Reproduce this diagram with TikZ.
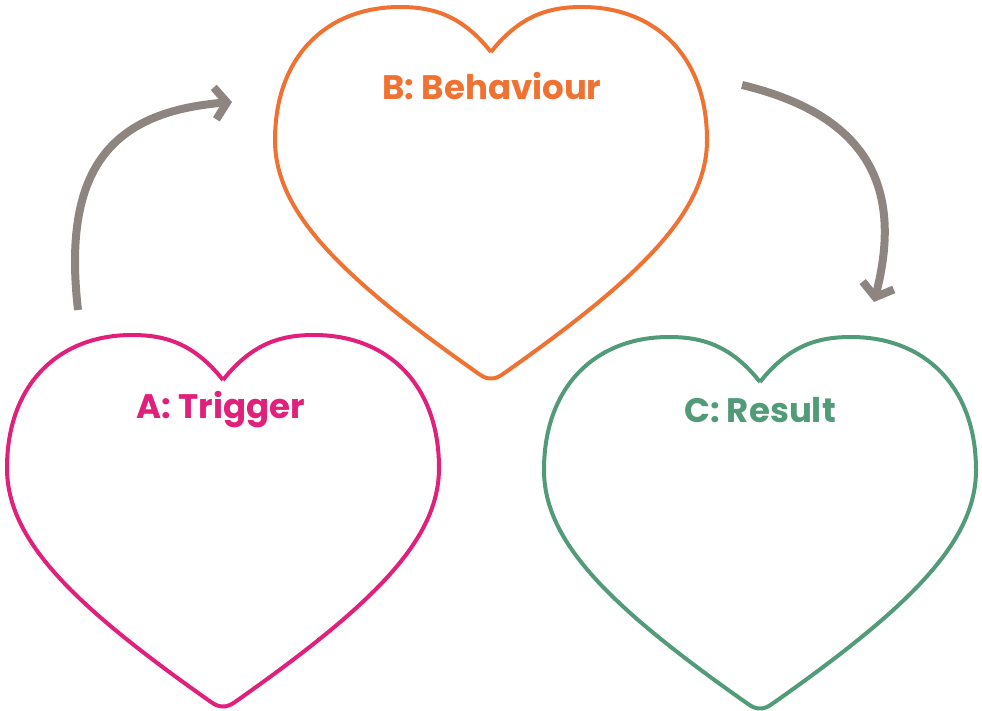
\documentclass[tikz,border=0pt]{standalone}
\usepackage{fontspec}
\setmainfont{Poppins}
\usetikzlibrary{arrows.meta}
\definecolor{trigger}{HTML}{E0207A}
\definecolor{behave}{HTML}{F07232}
\definecolor{result}{HTML}{529B79}
\definecolor{loopgray}{HTML}{8E8580}
\tikzset{heart/.pic={
    \draw[line width=4pt, line join=round]
      (0,0) .. controls (30,-38) and (60,-45) .. (91,-45)
      .. controls (165,-45) and (216,5) .. (216,88)
      .. controls (216,160) and (150,225) .. (12,322)
      .. controls (4,328) and (-4,328) .. (-12,322)
      .. controls (-150,225) and (-216,160) .. (-216,88)
      .. controls (-216,5) and (-165,-45) .. (-91,-45)
      .. controls (-60,-45) and (-30,-38) .. (0,0);
  }}
\begin{document}
\begin{tikzpicture}[x=1pt, y=-1pt,
  label/.style = {anchor=base, inner sep=0pt,
    font=\bfseries\fontsize{34}{36}\selectfont},
  loop/.style = {loopgray, line width=8pt,
    -{Straight Barb[length=12pt 0, width=32pt 0]}}]
  \useasboundingbox (0,0) rectangle (982,711);
  % the three hearts
  \pic[behave] at (491,52) {heart};
  \pic[trigger] at (223,380) {heart};
  \pic[result] at (760,382) {heart};
  \node[label, text=behave] (B) at (492,100) {B: Behaviour};
  \node[label, text=trigger] (A) at (221,418) {A: Trigger};
  \node[label, text=result] (C) at (760,422) {C: Result};
  % arrows between them
  \coordinate (a out) at (78,310);
  \coordinate (b in) at (232,102);
  \coordinate (b out) at (742,85);
  \coordinate (c in) at (874,302);
  \draw[loop] (a out) .. controls (62,170) and (110,112) .. (b in);
  \draw[loop] (b out) .. controls (880,118) and (900,200) .. (c in);
\end{tikzpicture}
\end{document}
